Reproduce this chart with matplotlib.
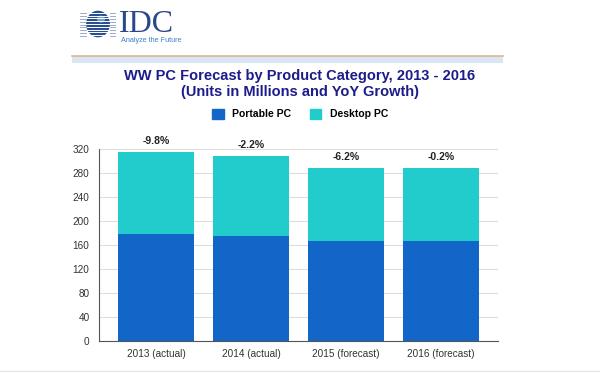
import matplotlib.pyplot as plt
import matplotlib.patches as mpatches
import numpy as np

plt.rcParams['font.family'] = ['Liberation Sans', 'DejaVu Sans']

# data
categories = ['2013 (actual)', '2014 (actual)', '2015 (forecast)', '2016 (forecast)']
portable = [178, 174, 166, 166]
desktop = [137, 134, 123, 122]
growth = ['-9.8%', '-2.2%', '-6.2%', '-0.2%']
yticks = [0, 40, 80, 120, 160, 200, 240, 280, 320]

c_port = '#1166c8'
c_desk = '#22cccc'
navy = '#1c1c8a'

fig = plt.figure(figsize=(6, 3.73), dpi=100, facecolor='white')

# header: logo + rule
fig.add_artist(mpatches.Rectangle((72 / 600, 1 - 63 / 373), 431 / 600, 7 / 373,
                                  transform=fig.transFigure, color='#dbe6f4', lw=0))
fig.add_artist(plt.Line2D([72 / 600, 503 / 600], [1 - 55.5 / 373] * 2,
                          transform=fig.transFigure, color='#d9b98e', lw=1.2))
globe = fig.add_axes([80 / 600, 1 - 38 / 373, 36 / 600, 28 / 373])
globe.set_xlim(-1.2, 1.2)
globe.set_ylim(-1, 1)
globe.add_patch(mpatches.Ellipse((0, 0), 1.5, 1.8, color='#2a4d8f'))
globe.add_patch(mpatches.Ellipse((0.2, 0.35), 0.45, 0.4, color='#6f9fd8'))
for yy in np.linspace(-0.8, 0.8, 9):
    globe.plot([-1.2, 1.2], [yy, yy], color='white', lw=0.7)
    globe.plot([-1.2, -0.8], [yy - 0.04, yy - 0.04], color='#8a9cc4', lw=0.6)
    globe.plot([0.8, 1.2], [yy - 0.04, yy - 0.04], color='#8a9cc4', lw=0.6)
globe.axis('off')
fig.text(119 / 600, 1 - 24 / 373, 'IDC', family='Liberation Serif', fontsize=23,
         color='#2a4888', va='center', ha='left')
fig.text(121 / 600, 1 - 41 / 373, 'Analyze the Future', fontsize=5.2,
         color='#3f7fc8', va='center', ha='left')

# title and legend
fig.text(0.5, 1 - 76 / 373, 'WW PC Forecast by Product Category, 2013 - 2016',
         ha='center', va='center', fontsize=10.5, fontweight='bold', color=navy)
fig.text(0.5, 1 - 92 / 373, '(Units in Millions and YoY Growth)',
         ha='center', va='center', fontsize=10.5, fontweight='bold', color=navy)
h1 = mpatches.Patch(color=c_port, label='Portable PC')
h2 = mpatches.Patch(color=c_desk, label='Desktop PC')
fig.legend(handles=[h1, h2], loc='center', bbox_to_anchor=(0.5, 1 - 114 / 373),
           ncol=2, frameon=False, handlelength=1.1, handleheight=1.1,
           columnspacing=1.8, handletextpad=0.8,
           prop={'weight': 'bold', 'size': 7.5})

ax = fig.add_axes([99.3 / 600, 1 - 340.7 / 373, 398.7 / 600, 191.7 / 373])
x = np.arange(len(categories))
ax.bar(x, portable, width=0.8, color=c_port, zorder=2)
ax.bar(x, desktop, width=0.8, bottom=portable, color=c_desk, zorder=2)
for i, g in enumerate(growth):
    ax.text(x[i], portable[i] + desktop[i] + 10, g, ha='center', va='bottom',
            fontsize=7.5, fontweight='bold', color='#222222')

ax.set_xlim(-0.6, 3.6)
ax.set_ylim(0, 320)
ax.set_yticks(yticks)
ax.set_xticks(x)
ax.set_xticklabels(categories)
ax.yaxis.grid(True, color='#dddddd', lw=0.8, zorder=0)
ax.tick_params(axis='both', length=0, labelsize=7.2, colors='#333333', pad=6)
ax.tick_params(axis='y', pad=7)
for s in ['top', 'right']:
    ax.spines[s].set_visible(False)
ax.spines['left'].set_color('#555555')
ax.spines['bottom'].set_color('#555555')
ax.spines['left'].set_linewidth(0.8)
ax.spines['bottom'].set_linewidth(0.8)

fig.add_artist(plt.Line2D([0, 1], [1 - 371 / 373] * 2, transform=fig.transFigure,
                          color='#e6e6e6', lw=1))

fig.savefig('out.png', dpi=100, facecolor='white')
